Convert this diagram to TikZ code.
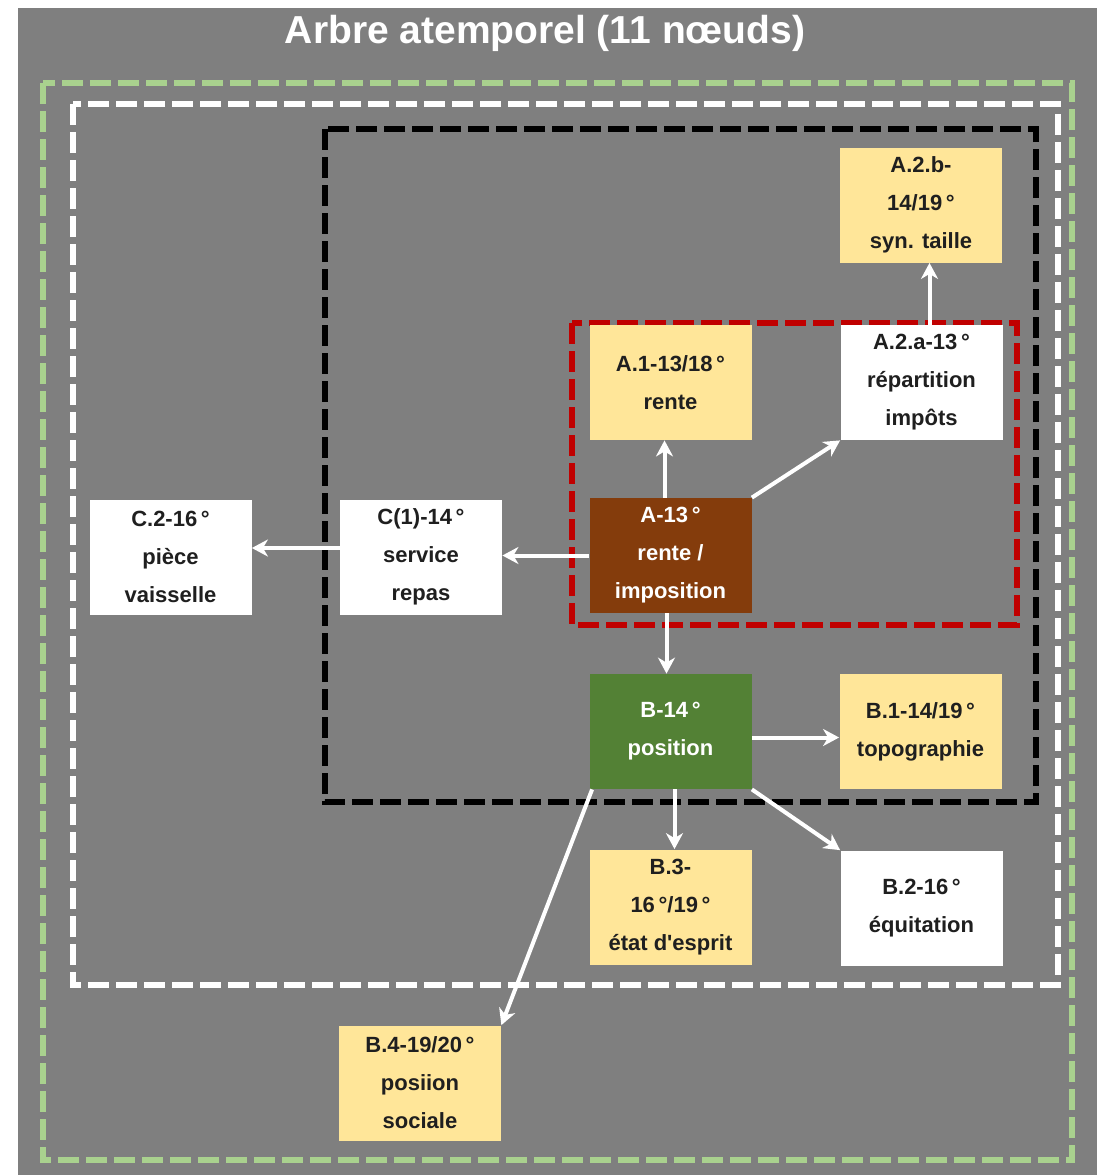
\documentclass[tikz,border=0pt]{standalone}
\usepackage{fontspec}
\setmainfont{Liberation Sans}
\usetikzlibrary{arrows.meta,positioning}
\definecolor{bggray}{HTML}{7F7F7F}
\definecolor{ylwbg}{HTML}{FFE699}
\definecolor{brownbg}{HTML}{843C0C}
\definecolor{greenbg}{HTML}{538135}
\definecolor{lightgreen}{HTML}{A9D18E}
\definecolor{darkred}{HTML}{C00000}
\definecolor{ink}{HTML}{1F1F1F}

\begin{document}
\begin{tikzpicture}[x=0.5pt,y=-0.5pt,
  box/.style={rectangle,minimum width=81pt,minimum height=57.5pt,inner sep=0pt,align=center,font=\bfseries\fontsize{11}{19}\selectfont,text=ink},
  ylw/.style={box,fill=ylwbg},wht/.style={box,fill=white},
  dark/.style={box,text=white},
  frame/.style={line width=3pt,dash pattern=on 10.5pt off 3.5pt},
  arr/.style={white,line width=2pt,-{Stealth[length=8pt,width=8.5pt,inset=2.5pt]}}]
\useasboundingbox (0,0) rectangle (1102,1175);
\fill[white] (0,0) rectangle (1102,1175);
\fill[bggray] (18,8) rectangle (1097,1175);
\node[text=white,font=\bfseries\fontsize{19.5}{22}\selectfont] (title) at (545,33){Arbre atemporel (11 nœuds)};
% cadres
\draw[frame,lightgreen] (43,83) rectangle (1072,1160);
\draw[frame,white] (73,104) rectangle (1058,985);
\draw[frame,black] (325,129) rectangle (1036,802);
\draw[frame,darkred] (572,323) rectangle (1017,625);
% noeuds
\node[ylw] (a2b) at (921,205){A.2.b-\\14/19\,°\\syn. taille};
\node[ylw] (a1) at (670.5,382.5){A.1-13/18\,°\\rente};
\node[wht] (a2a) at (921.5,382.5){A.2.a-13\,°\\répartition\\impôts};
\node[dark,fill=brownbg] (a) at (670.5,555.5){A-13\,°\\rente /\\imposition};
\node[wht] (c1) at (421,557){C(1)-14\,°\\service\\repas};
\node[wht] (c2) at (170.5,557){C.2-16\,°\\pièce\\vaisselle};
\node[dark,fill=greenbg] (b) at (670.5,731.5){B-14\,°\\position};
\node[ylw] (b1) at (920.5,731.5){B.1-14/19\,°\\topographie};
\node[ylw] (b3) at (670.5,907){B.3-\\16\,°/19\,°\\état d\textquotesingle esprit};
\node[wht] (b2) at (921.5,908){B.2-16\,°\\équitation};
\node[ylw] (b4) at (420,1083){B.4-19/20\,°\\posiion\\sociale};
% fleches
\draw[arr] ([xshift=-3pt]a.north) -- ([xshift=-3pt]a.north |- a1.south);
\draw[arr] (a.north east) -- (a2a.south west);
\draw[arr] ([xshift=4pt]a2a.north) -- ([xshift=4pt]a2a.north |- a2b.south);
\draw[arr] (a.west) -- (a.west -| c1.east);
\draw[arr] ([yshift=4.5pt]c1.west) -- ([yshift=4.5pt]c1.west -| c2.east);
\draw[arr] ([xshift=-2pt]a.south) -- ([xshift=-2pt]a.south |- b.north);
\draw[arr] ([yshift=-3pt]b.east) -- ([yshift=-3pt]b.east -| b1.west);
\draw[arr] ([xshift=2pt]b.south) -- ([xshift=2pt]b.south |- b3.north);
\draw[arr] (b.south east) -- (b2.north west);
\draw[arr] ([xshift=1.5pt]b.south west) -- (b4.north east);
\end{tikzpicture}
\end{document}
